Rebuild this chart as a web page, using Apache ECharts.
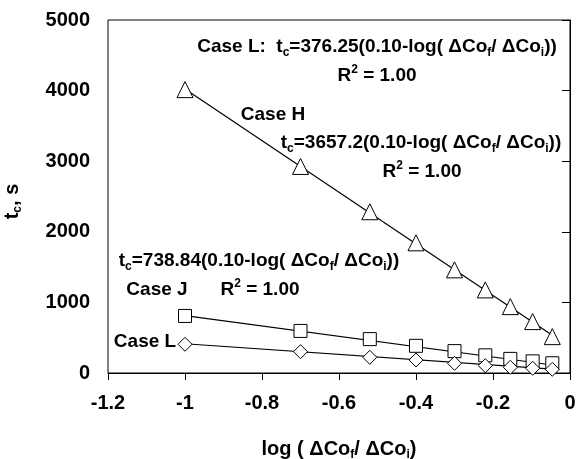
<!DOCTYPE html>
<html>
<head>
<meta charset="utf-8">
<script src="https://cdn.jsdelivr.net/npm/echarts@6/dist/echarts.min.js"></script>
<style>
  html, body { margin: 0; padding: 0; background: #fff; }
  #chart { width: 576px; height: 459px; }
</style>
</head>
<body>
<div id="chart"></div>
<script>
// log(ΔCo_f/ΔCo_i) values
var logRatio = [-1, -0.7, -0.52, -0.4, -0.3, -0.22, -0.155, -0.097, -0.046];
// measured t_c, s
var caseH = [4014, 2926, 2284, 1844, 1461, 1177, 940, 728, 515];
var caseJ = [808, 596, 480, 385, 310, 250, 200, 165, 138];
var caseL = [407, 302, 222, 184, 137, 104, 81, 67, 52];
// trend line ends (first / last x)
var fitX = [-1, -0.046];
var fitH = [4023, 534];
var fitJ = [813, 113];
var fitL = [414, 55];

var FONT = '"Liberation Sans", Arial, sans-serif';

function pairs(xs, ys) {
    return xs.map(function (x, i) { return [x, ys[i]]; });
}

var richTxt = {
    sub: { fontSize: 12, fontWeight: 'bold', fontFamily: FONT, verticalAlign: 'bottom', lineHeight: 12, color: '#000' },
    sup: { fontSize: 12, fontWeight: 'bold', fontFamily: FONT, verticalAlign: 'top', lineHeight: 12, color: '#000' },
    n: { fontSize: 19, fontWeight: 'bold', fontFamily: FONT, lineHeight: 24, color: '#000' },
    t: { fontSize: 20, fontWeight: 'bold', fontFamily: FONT, lineHeight: 24, color: '#000' }
};

function note(x, y, text, align) {
    return {
        type: 'text',
        x: x, y: y,
        style: {
            text: text,
            rich: richTxt,
            font: 'bold 19px ' + FONT,
            fill: '#000',
            align: align || 'center',
            verticalAlign: 'middle'
        }
    };
}

function markSeries(name, data, symbol, size) {
    return {
        name: name, type: 'line', data: pairs(logRatio, data),
        symbol: symbol, symbolSize: size, showSymbol: true,
        lineStyle: { width: 0 },
        itemStyle: { color: '#fff', borderColor: '#000', borderWidth: 1 },
        z: 3, silent: true
    };
}
function fitSeries(ys) {
    return {
        type: 'line', data: pairs(fitX, ys), symbol: 'none',
        lineStyle: { color: '#000', width: 1.2 }, z: 2, silent: true
    };
}

var chart = echarts.init(document.getElementById('chart'));
chart.setOption({
    animation: false,
    backgroundColor: '#fff',
    grid: {
        left: 108, right: 6, top: 20, bottom: 86, outerBoundsMode: 'none', containLabel: false,
        show: true, borderColor: '#000', borderWidth: 1
    },
    xAxis: {
        type: 'value', min: -1.2, max: 0, interval: 0.2,
        name: '{t|log ( ΔCo}{sub|f}{t|/ ΔCo}{sub|i}{t|)}',
        nameLocation: 'middle', nameGap: 64,
        nameTextStyle: { rich: richTxt },
        axisLine: { lineStyle: { color: '#000', width: 1 } },
        axisTick: { inside: false, length: 7, lineStyle: { color: '#000' } },
        axisLabel: {
            margin: 20, color: '#000', fontSize: 20, fontWeight: 'bold', fontFamily: FONT,
            formatter: function (v) { return String(Math.round(v * 10) / 10); }
        },
        splitLine: { show: false }
    },
    yAxis: {
        type: 'value', min: 0, max: 5000, interval: 1000,
        name: '{t|t}{sub|c}{t|, s}',
        nameLocation: 'middle', nameGap: 84, nameRotate: 90,
        nameTextStyle: { rich: richTxt, padding: [0, 0, 0, -10] },
        axisLine: { show: true, lineStyle: { color: '#000', width: 1 } },
        axisTick: { show: true, inside: false, length: 8, lineStyle: { color: '#000' } },
        axisLabel: {
            margin: 18, color: '#000', fontSize: 20, fontWeight: 'bold', fontFamily: FONT,
            formatter: function (v) { return String(v); }
        },
        splitLine: { show: false }
    },
    series: [
        fitSeries(fitH), fitSeries(fitJ), fitSeries(fitL),
        markSeries('Case H', caseH, 'triangle', 16),
        markSeries('Case J', caseJ, 'rect', 13),
        markSeries('Case L', caseL, 'diamond', 14)
    ],
    graphic: [
        note(377, 47, '{n|Case L:  t}{sub|c}{n|=376.25(0.10-log( ΔCo}{sub|f}{n|/ ΔCo}{sub|i}{n|))}'),
        note(377, 76, '{n|R}{sup|2}{n| = 1.00}'),
        note(273, 115, '{n|Case H}'),
        note(421, 143, '{n|t}{sub|c}{n|=3657.2(0.10-log( ΔCo}{sub|f}{n|/ ΔCo}{sub|i}{n|))}'),
        note(422, 172, '{n|R}{sup|2}{n| = 1.00}'),
        note(259, 261, '{n|t}{sub|c}{n|=738.84(0.10-log( ΔCo}{sub|f}{n|/ ΔCo}{sub|i}{n|))}'),
        note(157, 290, '{n|Case J}'),
        note(260, 290, '{n|R}{sup|2}{n| = 1.00}'),
        note(145, 342, '{n|Case L}')
    ]
});
</script>
</body>
</html>
